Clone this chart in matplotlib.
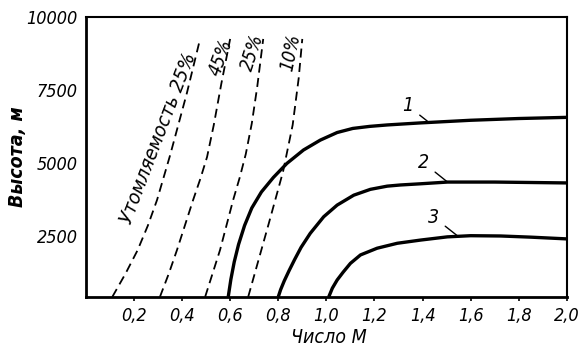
import matplotlib
matplotlib.use("Agg")
import matplotlib.pyplot as plt

plt.rcParams['font.family'] = ['DejaVu Sans']
plt.rcParams['font.stretch'] = 'condensed'
plt.rcParams['font.style'] = 'italic'

# solid curves 1-3: Mach number vs altitude (m)
m1 = [0.592, 0.603, 0.617, 0.635, 0.66, 0.69, 0.73, 0.78, 0.836, 0.905, 0.975, 1.045,
      1.11, 1.18, 1.254, 1.392, 1.6, 1.8, 2.0]
h1 = [400, 1000, 1600, 2200, 2850, 3450, 4000, 4500, 4980, 5440, 5780, 6040,
      6180, 6250, 6300, 6370, 6460, 6520, 6560]
m2 = [0.80, 0.81, 0.825, 0.845, 0.868, 0.895, 0.933, 0.989, 1.045, 1.114, 1.183, 1.253, 1.308,
      1.39, 1.504, 1.7, 2.0]
h2 = [400, 650, 950, 1300, 1680, 2100, 2580, 3150, 3550, 3890, 4090, 4200, 4240,
      4280, 4340, 4340, 4310]
m3 = [1.01, 1.025, 1.045, 1.07, 1.10, 1.142, 1.211, 1.295, 1.392, 1.503, 1.6, 1.725, 1.85, 2.0]
h3 = [400, 700, 980, 1250, 1550, 1840, 2070, 2240, 2350, 2460, 2500, 2490, 2450, 2390]

# dashed fatigue lines
fat_a_m = [0.11, 0.165, 0.215, 0.258, 0.296, 0.35, 0.42, 0.475]
fat_a_h = [400, 1200, 2000, 2850, 3725, 5250, 7390, 9250]
fat_b_m = [0.308, 0.345, 0.379, 0.446, 0.476, 0.504, 0.532, 0.563, 0.60]
fat_b_h = [400, 1200, 2010, 3725, 4450, 5200, 6300, 7700, 9250]
fat_c_m = [0.496, 0.558, 0.6125, 0.64, 0.665, 0.69, 0.7125, 0.7375]
fat_c_h = [400, 2010, 3725, 4500, 5300, 6350, 7600, 9250]
fat_d_m = [0.675, 0.76, 0.82, 0.86, 0.885, 0.90]
fat_d_h = [400, 2900, 4700, 6300, 7900, 9250]

xticks = [0.2, 0.4, 0.6, 0.8, 1.0, 1.2, 1.4, 1.6, 1.8, 2.0]
xtick_labels = ["0,2", "0,4", "0,6", "0,8", "1,0", "1,2", "1,4", "1,6", "1,8", "2,0"]
yticks = [2500, 5000, 7500, 10000]

fig = plt.figure(figsize=(5.88, 3.56), dpi=100)
ax = fig.add_axes([0.146, 0.166, 0.818, 0.786])

for m, h in [(m1, h1), (m2, h2), (m3, h3)]:
    ax.plot(m, h, color="black", lw=2.4, solid_capstyle="butt", solid_joinstyle="round")

for m, h in [(fat_a_m, fat_a_h), (fat_b_m, fat_b_h), (fat_c_m, fat_c_h), (fat_d_m, fat_d_h)]:
    ax.plot(m, h, color="black", lw=1.3, dashes=(5, 3))

ax.set_xlim(0, 2.0)
ax.set_ylim(400, 10000)
ax.set_xticks(xticks)
ax.set_xticklabels(xtick_labels)
ax.set_yticks(yticks)
ax.tick_params(axis="x", length=3, width=1.2, labelsize=13, pad=4)
ax.tick_params(axis="y", length=0, labelsize=13, pad=6)
for s in ["left", "bottom"]:
    ax.spines[s].set_linewidth(2.0)
for s in ["top", "right"]:
    ax.spines[s].set_linewidth(1.5)

# rotated labels along the dashed lines
ax.text(0.30, 5850, "Утомляемость 25%", rotation=69, ha="center", va="center",
        fontsize=14.5, rotation_mode="anchor")
ax.text(0.56, 8600, "45%", rotation=70, ha="center", va="center", fontsize=13.5, rotation_mode="anchor")
ax.text(0.695, 8800, "25%", rotation=72, ha="center", va="center", fontsize=13.5, rotation_mode="anchor")
ax.text(0.85, 8800, "10%", rotation=78, ha="center", va="center", fontsize=13.5, rotation_mode="anchor")

# curve numbers with leader lines
lead = dict(arrowstyle="-", lw=1.0, color="black", shrinkA=3, shrinkB=0)
ax.annotate("1", xy=(1.42, 6430), xytext=(1.34, 6950), fontsize=14, ha="center", va="center", arrowprops=lead)
ax.annotate("2", xy=(1.504, 4340), xytext=(1.404, 5000), fontsize=14, ha="center", va="center", arrowprops=lead)
ax.annotate("3", xy=(1.546, 2490), xytext=(1.446, 3140), fontsize=14, ha="center", va="center", arrowprops=lead)

fig.text(0.03, 0.56, "Высота, м", rotation=90, ha="center", va="center", fontsize=14, fontweight="bold")
fig.text(0.56, 0.052, "Число М", ha="center", va="center", fontsize=14)

fig.savefig("out.png", dpi=100)
